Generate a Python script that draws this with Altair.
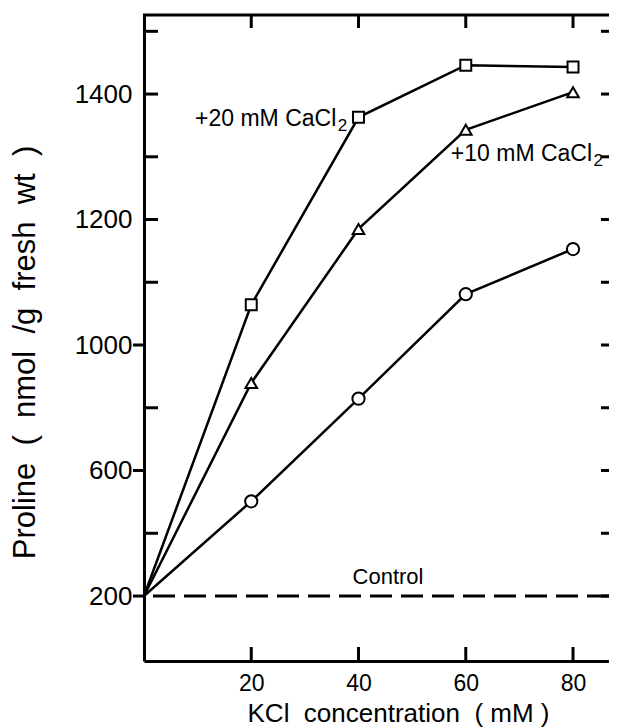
import altair as alt
import pandas as pd

# ---- data ----
kcl = [0, 20, 40, 60, 80]
ca20 = [200, 1064, 1363, 1446, 1443]
ca10 = [200, 879, 1185, 1343, 1403]
kcl_only = [200, 502, 829, 1081, 1153]
series_names = ["+20 mM CaCl2", "+10 mM CaCl2", "KCl"]
series_shapes = ["square", "triangle-up", "circle"]
series_sizes = [120, 150, 190]
control_level = [200]

x_tick_values = [20, 40, 60, 80]
y_label_values = [200, 600, 1000, 1200, 1400]
y_outward_ticks = [200, 600, 1000]
y_inward_left_ticks = [400, 800, 1100, 1200, 1300, 1400, 1500]
y_right_ticks = [200, 400, 600, 800, 1000, 1100, 1200, 1300, 1400, 1500]

# annotation texts
ann_text = ["+20 mM CaCl", "+10 mM CaCl"]
ann_kcl = [37.9, 85.6]
ann_proline = [1360, 1304]
control_text = ["Control"]

W, H = 465, 646
FONT = "Liberation Sans"
SP = "\u00a0"

rows = []
for name, vals in zip(series_names, [ca20, ca10, kcl_only]):
    for xv, yv in zip(kcl, vals):
        rows.append({"kcl": xv, "proline": yv, "series": name})
df = pd.DataFrame(rows)

xscale = alt.Scale(domain=[0, W / 5.3628], range=[0, W], nice=False, zero=False)
yscale = alt.Scale(domain=[-7, 1000, 1526], range=[H, 330, 0], nice=False, zero=False)

x_title = f"KCl{SP*2}concentration{SP*2}({SP}mM{SP})"
y_title = f"Proline{SP*2}({SP*2}nmol{SP*2}/g{SP*2}fresh{SP*2}wt{SP*2})"

x_axis = alt.Axis(orient="bottom", values=x_tick_values, ticks=False, tickSize=0, grid=False,
                  domainWidth=3, domainColor="black", labelFontSize=23,
                  labelPadding=11, labelColor="black", labelFont=FONT,
                  title=x_title, titleFontSize=26,
                  titleFont=FONT, titleFontWeight="normal", titleColor="black",
                  titleX=254, titleY=60, titleBaseline="alphabetic", titleAlign="center")
y_axis = alt.Axis(orient="left", values=y_label_values, format="d", ticks=False, tickSize=0, grid=False,
                  domainWidth=3, domainColor="black", labelFontSize=26,
                  labelPadding=12, labelColor="black", labelFont=FONT,
                  title=y_title, titleFontSize=31,
                  titleFont=FONT, titleFontWeight="normal", titleColor="black",
                  titleX=-119, titleY=337, titleAngle=-90,
                  titleBaseline="middle", titleAlign="center")

base = alt.Chart(df)
lines = base.mark_line(color="black", strokeWidth=2.5).encode(
    x=alt.X("kcl:Q", scale=xscale, axis=x_axis),
    y=alt.Y("proline:Q", scale=yscale, axis=y_axis),
    detail="series:N",
)
points = base.transform_filter(alt.datum.kcl > 0).mark_point(
    filled=True, fill="white", stroke="black", strokeWidth=2, opacity=1
).encode(
    x=alt.X("kcl:Q", scale=xscale),
    y=alt.Y("proline:Q", scale=yscale),
    shape=alt.Shape("series:N", scale=alt.Scale(domain=series_names, range=series_shapes), legend=None),
    size=alt.Size("series:N", scale=alt.Scale(domain=series_names, range=series_sizes), legend=None),
)

control = alt.Chart(pd.DataFrame({"v": control_level})).mark_rule(
    color="black", strokeWidth=3, strokeDash=[22, 9]
).encode(y=alt.Y("v:Q", scale=yscale))

# frame: top border and ticks
top_border = alt.Chart(pd.DataFrame({"v": [0]})).mark_rule(color="black", strokeWidth=3).encode(
    x=alt.value(-1), x2=alt.value(W), y=alt.value(0),
)
xt = pd.DataFrame({"v": x_tick_values})
top_ticks = alt.Chart(xt).mark_rule(color="black", strokeWidth=3).encode(
    x=alt.X("v:Q", scale=xscale), y=alt.value(0), y2=alt.value(13),
)
bottom_ticks = alt.Chart(xt).mark_rule(color="black", strokeWidth=3).encode(
    x=alt.X("v:Q", scale=xscale), y=alt.value(H - 14), y2=alt.value(H),
)
left_out = alt.Chart(pd.DataFrame({"v": y_outward_ticks})).mark_rule(color="black", strokeWidth=3).encode(
    y=alt.Y("v:Q", scale=yscale), x=alt.value(-11), x2=alt.value(0),
)
left_in = alt.Chart(pd.DataFrame({"v": y_inward_left_ticks})).mark_rule(color="black", strokeWidth=3).encode(
    y=alt.Y("v:Q", scale=yscale), x=alt.value(0), x2=alt.value(14),
)
right_in = alt.Chart(pd.DataFrame({"v": y_right_ticks})).mark_rule(color="black", strokeWidth=3).encode(
    y=alt.Y("v:Q", scale=yscale), x=alt.value(W - 8), x2=alt.value(W),
)

ann_df = pd.DataFrame({"kcl": ann_kcl, "proline": ann_proline, "text": ann_text})
ann_main = alt.Chart(ann_df).mark_text(
    align="right", baseline="middle", fontSize=23, font=FONT, color="black", dx=-11
).encode(x=alt.X("kcl:Q", scale=xscale), y=alt.Y("proline:Q", scale=yscale), text="text:N")
ann_sub = alt.Chart(ann_df).mark_text(
    align="right", baseline="middle", fontSize=17, font=FONT, color="black", dy=7
).encode(x=alt.X("kcl:Q", scale=xscale), y=alt.Y("proline:Q", scale=yscale), text=alt.value("2"))

ctrl_df = pd.DataFrame({"kcl": [45.5], "proline": [261], "text": control_text})
ctrl_lab = alt.Chart(ctrl_df).mark_text(
    align="center", baseline="middle", fontSize=22, font=FONT, color="black"
).encode(x=alt.X("kcl:Q", scale=xscale), y=alt.Y("proline:Q", scale=yscale), text="text:N")

chart = alt.layer(
    control, lines, points, top_border, top_ticks, bottom_ticks, left_out, left_in, right_in,
    ann_main, ann_sub, ctrl_lab
).properties(
    width=W, height=H,
    autosize=alt.AutoSizeParams(type="none"),
    padding={"left": 136, "top": 7, "right": 0, "bottom": 69},
    background="white",
).configure_view(stroke=None)

chart.save("out.html", embed_options={"renderer": "svg", "actions": False})
